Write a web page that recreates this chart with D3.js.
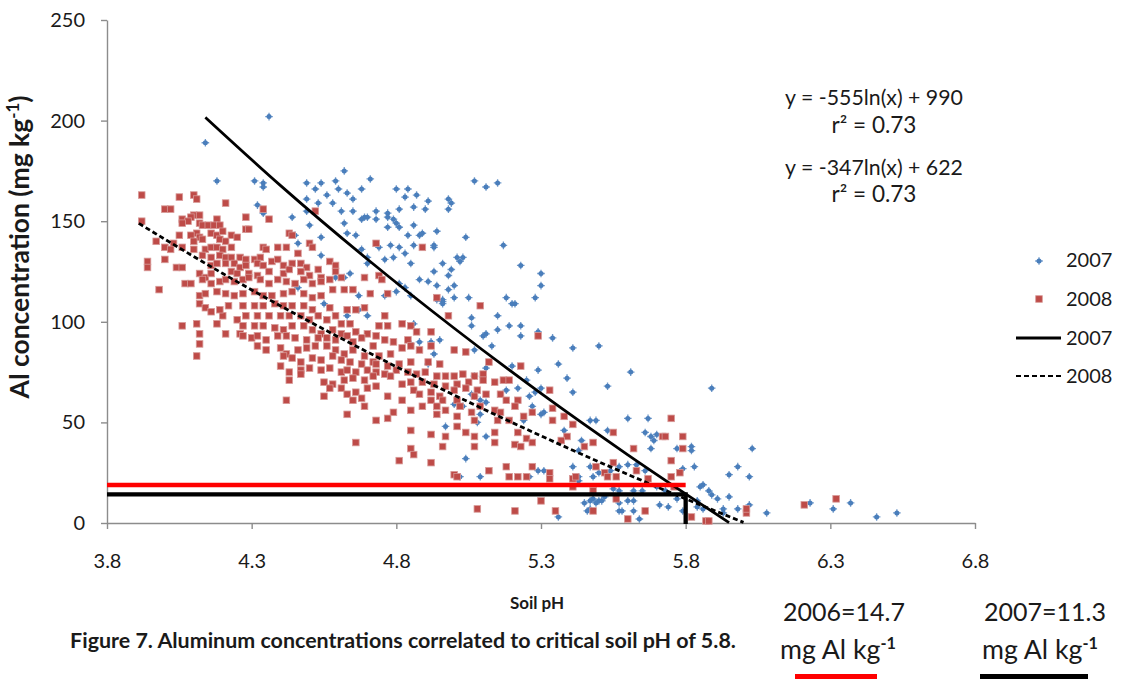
<!DOCTYPE html>
<html><head><meta charset="utf-8">
<script src="https://cdn.jsdelivr.net/npm/d3@7"></script>
<style>body{margin:0;background:#fff;} svg{display:block;font-family:Lato,'Open Sans',sans-serif;}</style>
</head><body><svg id="c" width="1128" height="679"></svg>
<script>
const xTicks=[3.8,4.3,4.8,5.3,5.8,6.3,6.8];
const yTicks=[0,50,100,150,200,250];
const points2007=[[4.36,202],[4.14,189],[4.18,170],[4.31,170],[4.34,169],[4.34,167],[4.32,158],[4.34,154],[4.44,152],[4.45,143],[4.46,139],[4.49,169],[4.52,166],[4.54,169],[4.49,161],[4.53,159],[4.49,155],[4.50,148],[4.54,142],[4.56,163],[4.59,170],[4.60,166],[4.62,175],[4.63,164],[4.65,161],[4.58,159],[4.61,155],[4.65,155],[4.62,149],[4.63,144],[4.66,143],[4.68,166],[4.71,171],[4.69,152],[4.70,152],[4.68,151],[4.73,155],[4.73,151],[4.77,154],[4.77,152],[4.77,147],[4.74,137],[4.68,136],[4.70,132],[4.70,129],[4.76,131],[4.54,133],[4.59,122],[4.62,122],[4.64,124],[4.46,117],[4.55,109],[4.67,113],[4.67,106],[4.76,113],[4.70,103],[4.63,103],
[5.07,170],[5.11,167],[5.15,169],[4.80,166],[4.84,166],[4.83,162],[4.87,163],[4.91,160],[4.98,161],[4.99,159],[4.98,156],[4.81,156],[4.86,157],[4.90,156],[4.79,151],[4.80,149],[4.81,147],[4.86,148],[4.84,143],[4.88,143],[4.89,144],[4.94,145],[5.04,142],[4.78,138],[4.81,137],[4.86,138],[4.93,137],[4.93,138],[5.17,138],[4.83,134],[4.79,132],[5.01,132],[5.03,132],[5.02,130],[4.85,129],[4.96,129],[5.23,128],[4.99,126],[4.98,123],[4.93,125],[5.30,124],[5.30,118],[4.88,121],[4.91,120],[4.94,118],[5.00,118],[4.98,116],[4.81,119],[4.83,117],[4.80,115],[4.85,113],[4.94,111],[4.96,110],[4.96,111],[5.00,112],[5.05,112],[5.18,112],[5.21,109],[5.28,112],[5.34,92],[5.41,87],[5.50,88],
[4.86,99],[4.88,90],[4.92,90],[4.85,89],[4.93,84],[4.91,79],[4.95,91],[5.06,102],[5.06,98],[4.96,109],[5.15,103],[5.20,109],[5.19,98],[5.23,98],[5.15,96],[5.23,93],[5.10,93],[5.11,94],[5.13,88],[5.07,86],[5.29,95],[5.29,76],[5.20,78],[5.07,73],[5.11,77],[5.18,66],[5.22,67],[5.25,71],[5.26,63],[5.28,65],[5.27,58],[5.24,51],[5.30,54],[5.11,43],[4.97,48],[5.00,59],[5.03,58],[5.06,64],[5.07,63],[5.09,61],[5.09,54],[5.08,50],[5.11,60],
[5.36,79],[5.39,72],[5.41,65],[5.53,68],[5.61,75],[5.30,67],[5.31,55],[5.38,46],[5.44,41],[5.43,36],[5.47,51],[5.49,51],[5.53,46],[5.60,52],[5.67,52],[5.66,45],[5.68,43],[5.70,44],[5.69,41],[5.68,37],[5.77,37],[5.82,38],[5.82,36],[5.83,28],[5.79,27],[5.57,28],[5.60,29],[5.63,29],[5.66,26],[5.54,26],[5.53,24],[5.50,25],[5.55,17],[5.57,16],[5.62,16],[5.65,16],[5.70,18],[5.73,16],[5.43,23],[5.48,23],[5.43,21],[5.29,26],[5.31,26],[5.26,23],[5.45,10],[5.47,11],[5.48,12],[5.50,11],[5.51,11],[5.52,13],[5.47,7],[5.46,6],[5.49,10],[5.57,10],[5.57,6],[5.60,11],[5.58,6],[5.62,11],[5.64,2],[5.62,6],[5.36,3],[5.71,9],[5.74,8],[5.77,12],[5.79,6],[5.04,32],[5.09,23],[5.02,23],[5.47,28],[5.41,28],
[5.89,67],[6.03,37],[5.98,28],[5.95,24],[6.02,23],[5.85,18],[5.86,19],[5.88,16],[5.89,14],[5.91,12],[5.95,13],[5.84,11],[5.84,8],[5.86,7],[5.93,7],[5.93,5],[5.98,7],[6.02,9],[6.08,5],[6.23,10],[6.31,7],[6.37,10],[6.46,3],[6.53,5]];
const points2008=[[3.92,163],[4.05,162],[4.10,163],[4.11,161],[4.21,159],[4.00,156],[4.02,156],[4.10,153],[4.12,153],[4.09,152],[4.18,151],[4.28,152],[4.06,151],[4.08,150],[4.06,149],[4.12,149],[4.13,148],[4.15,148],[4.17,148],[4.19,148],[3.92,150],[4.34,156],[4.36,151],[4.52,155],[4.11,144],[4.09,143],[4.05,143],[4.16,144],[4.18,143],[4.20,145],[4.23,143],[4.25,142],[4.28,146],[4.29,146],[3.97,140],[4.03,139],[4.12,142],[4.13,141],[4.10,140],[4.19,141],[4.21,140],[4.43,144],[4.44,143],[4.73,139],
[4.00,137],[4.02,136],[4.00,131],[4.06,137],[4.10,136],[4.14,136],[4.16,137],[4.18,137],[4.20,136],[4.23,137],[4.13,133],[4.16,132],[4.19,133],[4.21,132],[4.23,132],[4.26,132],[4.28,131],[4.31,131],[4.33,132],[4.34,137],[4.35,136],[4.39,137],[4.42,137],[4.46,134],[4.50,139],[4.51,137],[4.47,129],[3.94,130],[3.94,127],[4.04,127],[4.06,127],[4.07,119],[4.09,119],
[4.16,128],[4.18,129],[4.21,129],[4.24,129],[4.26,127],[4.28,128],[4.32,129],[4.34,128],[4.37,130],[4.39,131],[4.41,128],[4.44,129],[4.49,127],[4.53,126],[4.57,130],[4.59,128],[4.59,125],[4.61,122],[4.69,122],[4.74,123],[4.75,121],[4.12,124],[4.14,122],[4.16,124],[4.23,125],[4.25,124],[4.29,124],[4.32,123],[4.36,125],[4.41,124],[4.43,126],[4.47,125],[4.50,123],[4.54,122],[4.57,121],[3.98,116],
[4.13,121],[4.16,119],[4.19,120],[4.21,121],[4.24,120],[4.27,121],[4.29,122],[4.33,121],[4.36,119],[4.39,121],[4.42,120],[4.45,119],[4.48,121],[4.51,119],[4.54,120],[4.58,116],[4.62,116],[4.65,116],[4.71,114],[4.77,114],[4.12,113],[4.14,114],[4.18,115],[4.21,114],[4.24,113],[4.27,114],[4.31,115],[4.34,113],[4.37,113],[4.41,114],[4.44,115],[4.48,114],[4.51,112],[4.54,113],
[4.06,98],[4.11,99],[4.12,94],[4.12,89],[4.18,99],[4.20,103],[4.21,94],[4.25,101],[4.26,94],[4.12,109],[4.14,107],[4.16,105],[4.19,106],[4.22,108],[4.11,83],
[4.27,108],[4.31,108],[4.34,108],[4.38,109],[4.41,108],[4.44,108],[4.48,108],[4.51,106],[4.53,103],[4.57,107],[4.59,103],[4.63,106],[4.66,106],[4.69,107],[4.28,103],[4.32,103],[4.36,103],[4.40,103],[4.43,103],[4.47,103],[4.50,101],[4.56,101],[4.61,99],[4.64,99],[4.76,103],[5.09,108],[4.98,103],
[4.27,98],[4.31,98],[4.34,98],[4.38,97],[4.41,96],[4.44,98],[4.48,98],[4.51,96],[4.54,94],[4.58,96],[4.61,94],[4.63,93],[4.66,95],[4.70,94],[4.73,93],[4.77,98],[4.74,98],[4.82,99],[4.85,98],[4.87,95],[4.92,95],[4.27,93],[4.30,92],[4.32,93],[4.35,91],[4.39,93],[4.42,93],[4.45,92],[4.49,91],[4.53,92],[4.56,92],[4.59,91],[4.65,90],[4.68,92],[4.76,91],[4.79,90],[4.84,91],[5.29,93],
[4.32,88],[4.35,86],[4.40,87],[4.42,84],[4.46,86],[4.49,87],[4.52,88],[4.56,88],[4.59,86],[4.62,84],[4.65,86],[4.69,83],[4.72,88],[4.74,83],[4.78,84],[4.82,87],[4.85,88],[4.88,86],[4.92,88],[5.00,86],[5.04,85],[4.41,83],[4.44,82],[4.47,80],[4.51,82],[4.54,81],[4.58,83],[4.61,81],[4.64,80],[4.68,79],[4.72,80],[4.73,79],[4.77,78],[4.81,79],[4.85,80],[4.91,80],[4.95,79],[5.12,80],[5.23,78],
[4.40,78],[4.43,75],[4.47,76],[4.50,77],[4.54,76],[4.57,77],[4.61,75],[4.63,76],[4.66,75],[4.70,76],[4.73,75],[4.76,74],[4.80,76],[4.84,75],[4.87,74],[4.90,75],[4.94,73],[4.97,73],[5.00,73],[5.03,74],[5.07,73],[5.10,74],[5.14,70],[5.17,71],[5.19,71],[4.43,71],[4.47,74],[4.55,70],[4.58,69],[4.62,71],[4.65,72],[4.69,71],[4.72,73],[4.78,73],[4.82,69],[4.85,70],[4.89,70],[4.93,69],[4.97,68],[5.01,69],[5.05,70],[5.10,71],
[4.57,67],[4.61,67],[4.63,64],[4.66,65],[4.70,67],[4.73,68],[4.77,63],[4.82,61],[4.86,66],[4.88,64],[4.92,65],[4.95,63],[5.00,66],[5.04,67],[5.08,66],[5.11,64],[5.16,64],[5.18,61],[5.22,61],[4.42,61],[4.55,63],[4.65,61],[4.68,62],[4.92,61],[4.96,61],[5.01,61],[5.07,63],
[4.69,58],[4.79,55],[4.85,56],[4.89,58],[4.94,58],[4.97,56],[5.02,58],[5.06,55],[5.09,58],[5.14,56],[5.16,55],[5.21,58],[5.24,53],[5.27,55],[4.63,54],[4.73,51],[4.77,52],[4.94,54],[5.01,53],[5.07,51],[5.15,51],[5.19,51],
[4.85,46],[4.92,44],[4.97,43],[5.01,48],[5.04,45],[5.07,43],[5.14,45],[5.22,45],[5.25,42],[4.66,40],[4.85,37],[4.96,38],[5.07,38],[5.14,40],[5.21,39],[5.23,38],[5.27,40],
[4.89,137],[4.94,112],
[5.33,66],[5.34,57],[5.38,53],[5.41,49],[5.39,43],[5.37,41],[5.45,38],[5.48,40],[5.49,28],[5.52,25],[5.53,23],[5.55,45],[5.55,30],[5.56,23],[5.56,12],[5.60,2],[5.62,37],[5.63,26],[5.67,22],[5.66,6],[5.72,43],[5.73,43],[5.75,52],[5.75,31],[5.75,23],[5.76,18],[5.78,25],[5.79,43],[5.79,37],[5.82,3],[5.48,6],[5.48,16],[5.41,22],[5.42,23],[5.35,6],[5.00,24],[5.08,7],[5.21,6],[5.30,11],[5.25,23],[5.33,25],[5.33,22],[5.41,18],[5.01,23],[5.12,26],[5.19,23],[5.22,23],[5.27,28],[4.81,31],[4.92,30],[4.86,34],[5.18,28],[5.34,51],
[5.87,1],[5.88,1],[6.01,5],[6.01,7],[6.21,9],[6.32,12]];
const trend2007=[[4.14,201.6],[4.4,167.7],[4.7,131.1],[5.0,96.8],[5.3,64.4],[5.6,33.9],[5.95,0.2]];
const trend2008=[[3.91,148.9],[4.2,124.0],[4.5,100.1],[4.8,77.7],[5.1,56.7],[5.4,36.8],[5.7,18.0],[6.0,0.3]];
const criticalPH=5.8;
const level2006=18.9, level2007=14.2;
const equations=["y = -555ln(x) + 990","r² = 0.73","y = -347ln(x) + 622","r² = 0.73"];
const legendLabels=["2007","2008","2007","2008"];
const xTitle="Soil pH", yTitle="Al concentration (mg kg";
const caption="Figure 7. Aluminum concentrations correlated to critical soil pH of 5.8.";
const notes=["2006=14.7","2007=11.3"];

const svg=d3.select('#c');
const x=d3.scaleLinear().domain([3.8,6.8]).range([107,975]);
const y=d3.scaleLinear().domain([0,250]).range([523,20]);
const BLUE='#4A7EBB', RED='#BE4B48', TXT='#1a1a1a', AX='#8c8c8c';

function fit(t,target){const L=t.node().getComputedTextLength();const r=target/L;t.attr('font-size',+t.attr('font-size')*r);t.selectAll('tspan').each(function(){const s=d3.select(this);if(s.attr('font-size'))s.attr('font-size',+s.attr('font-size')*r);if(s.attr('dy'))s.attr('dy',+s.attr('dy')*r);});}

// axes
const ya=svg.append('g').attr('transform','translate(107,0)').call(d3.axisLeft(y).tickValues(yTicks).tickSize(6).tickSizeOuter(0).tickPadding(16));
const xa=svg.append('g').attr('transform','translate(0,523)').call(d3.axisBottom(x).tickValues(xTicks).tickFormat(d3.format('.1f')).tickSize(6).tickSizeOuter(0).tickPadding(25));
[ya,xa].forEach(g=>{g.select('.domain').attr('stroke',AX).attr('stroke-width',1.4);g.selectAll('.tick line').attr('stroke',AX).attr('stroke-width',1.4);g.selectAll('text').attr('font-family','Lato').attr('font-size',20).attr('fill',TXT);});

// marker symbols
function blueMark(g,cx,cy){g.append('circle').attr('cx',cx).attr('cy',cy).attr('r',2.5).attr('fill',BLUE);
 g.append('path').attr('d',`M${cx-3.8},${cy}H${cx+3.8}M${cx},${cy-3.8}V${cy+3.8}`).attr('stroke',BLUE).attr('stroke-width',1.3).attr('stroke-opacity',0.8);}
function redMark(g,cx,cy){g.append('rect').attr('x',cx-3.3).attr('y',cy-3.3).attr('width',6.6).attr('height',6.6).attr('fill',RED).attr('stroke','#d89a98').attr('stroke-width',0.8);}

const gB=svg.append('g');
points2007.forEach(d=>blueMark(gB,x(d[0]),y(d[1])));
const gR=svg.append('g');
points2008.forEach(d=>redMark(gR,x(d[0]),y(d[1])));

// trend lines
const line=d3.line().x(d=>x(d[0])).y(d=>y(d[1])).curve(d3.curveMonotoneX);
svg.append('path').datum(trend2007).attr('d',line).attr('fill','none').attr('stroke','#000').attr('stroke-width',2.8);
svg.append('path').datum(trend2008).attr('d',line).attr('fill','none').attr('stroke','#000').attr('stroke-width',2.8).attr('stroke-dasharray','5,3');

// critical lines
svg.append('line').attr('x1',x(3.8)).attr('x2',x(criticalPH)).attr('y1',y(level2006)).attr('y2',y(level2006)).attr('stroke','#ff0000').attr('stroke-width',4.5);
svg.append('path').attr('d',`M${x(3.8)},${y(level2007)}H${x(criticalPH)}V${y(0)+1}`).attr('fill','none').attr('stroke','#000').attr('stroke-width',4.3);

// equations
const eqY=[105,133,175,202], eqW=[178,85,178,85];
equations.forEach((t,i)=>{const e=svg.append('text').attr('x',874).attr('y',eqY[i]).attr('text-anchor','middle').attr('font-size',18).attr('fill',TXT).text(t); fit(e,eqW[i]);});

// legend
const lg=svg.append('g');
blueMark(lg,1039,261); redMark(lg,1039,299);
lg.append('line').attr('x1',1016).attr('x2',1061).attr('y1',338).attr('y2',338).attr('stroke','#000').attr('stroke-width',2.8);
lg.append('line').attr('x1',1016).attr('x2',1061).attr('y1',376).attr('y2',376).attr('stroke','#000').attr('stroke-width',2.2).attr('stroke-dasharray','5,3');
const lgY=[267,306,345,383];
legendLabels.forEach((t,i)=>lg.append('text').attr('x',1066).attr('y',lgY[i]).attr('font-size',20).attr('fill',TXT).text(t));

// titles
svg.append('text').attr('x',537).attr('y',609).attr('text-anchor','middle').attr('font-weight','bold').attr('font-size',17).attr('fill',TXT).text(xTitle);
const yt=svg.append('text').attr('transform','translate(29,247) rotate(-90)').attr('text-anchor','middle').attr('font-weight','bold').attr('font-size',19).attr('fill',TXT);
yt.append('tspan').text(yTitle); yt.append('tspan').attr('dy',-7).attr('font-size',12).text('-1'); yt.append('tspan').attr('dy',7).text(')');
fit(yt,303);
const cp=svg.append('text').attr('x',403).attr('y',648).attr('text-anchor','middle').attr('font-weight','bold').attr('font-size',17).attr('fill',TXT).text(caption); fit(cp,666);

// notes
const noteX=[844,1045], unitX=[838,1040], ulX=[[795,877],[980,1088]], ulC=['#ff0000','#000'];
notes.forEach((t,i)=>{
 const n=svg.append('text').attr('x',noteX[i]).attr('y',621).attr('text-anchor','middle').attr('font-size',23).attr('fill',TXT).text(t); fit(n,122);
 const u=svg.append('text').attr('x',unitX[i]).attr('y',659).attr('text-anchor','middle').attr('font-size',23).attr('fill',TXT);
 u.append('tspan').text('mg Al kg'); u.append('tspan').attr('dy',-9).attr('font-size',14).attr('font-weight','bold').text('-1');
 fit(u,116);
 svg.append('line').attr('x1',ulX[i][0]).attr('x2',ulX[i][1]).attr('y1',676.5).attr('y2',676.5).attr('stroke',ulC[i]).attr('stroke-width',5);
});
</script></body></html>
